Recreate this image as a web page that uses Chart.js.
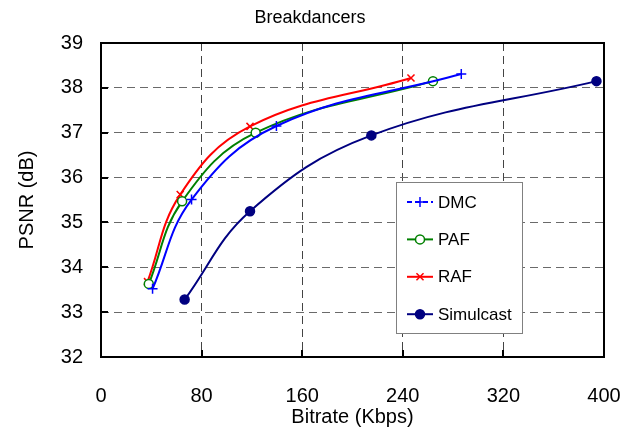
<!DOCTYPE html>
<html>
<head>
<meta charset="utf-8">
<script src="https://cdn.jsdelivr.net/npm/chart.js@4/dist/chart.umd.min.js"></script>
<style>
  html, body { margin:0; padding:0; background:#fff; }
  #wrap { width:635px; height:438px; }
</style>
</head>
<body>
<div id="wrap"><canvas id="chart"></canvas></div>
<script>
// ---- data (bitrate Kbps, PSNR dB) ----
const seriesNames = ['DMC', 'PAF', 'RAF', 'Simulcast'];
const dmcRate   = [41, 72, 139.5, 286.5];
const dmcPsnr   = [33.52, 35.51, 37.15, 38.31];
const pafRate   = [38, 64.5, 123, 264];
const pafPsnr   = [33.63, 35.47, 37.0, 38.15];
const rafRate   = [37, 63, 118.5, 246.5];
const rafPsnr   = [33.68, 35.62, 37.14, 38.22];
const simRate   = [66.5, 118.5, 215, 394];
const simPsnr   = [33.28, 35.25, 36.94, 38.15];
const xTicks    = [0, 80, 160, 240, 320, 400];
const yTicks    = [32, 33, 34, 35, 36, 37, 38, 39];

const FONT = "'Liberation Sans', Arial, sans-serif";
const pts = (xs, ys) => xs.map((x, i) => ({ x: x, y: ys[i] }));

const styles = [
  { color:'#0000ff', point:'cross',    radius:5,   fill:'#0000ff' },
  { color:'#008000', point:'circle',   radius:4.5, fill:'#ffffff' },
  { color:'#ff0000', point:'crossRot', radius:5,   fill:'#ff0000' },
  { color:'#000080', point:'circle',   radius:4.5, fill:'#000080' }
];
const raw = [pts(dmcRate, dmcPsnr), pts(pafRate, pafPsnr), pts(rafRate, rafPsnr), pts(simRate, simPsnr)];

// frame, inside ticks, legend, title
const decor = {
  id: 'decor',
  afterDatasetsDraw(chart) {
    const { ctx, chartArea: a, scales: { x, y } } = chart;
    ctx.save();
    ctx.strokeStyle = '#000';
    ctx.lineWidth = 2;
    ctx.strokeRect(a.left, a.top, a.right - a.left, a.bottom - a.top);
    ctx.beginPath();
    yTicks.forEach(v => { const p = Math.round(y.getPixelForValue(v)); ctx.moveTo(a.left, p); ctx.lineTo(a.left + 7, p); });
    xTicks.forEach(v => { const p = Math.round(x.getPixelForValue(v)); ctx.moveTo(p, a.bottom); ctx.lineTo(p, a.bottom - 7); });
    ctx.stroke();

    // legend box
    const bx = 396, by = 182, bw = 126, bh = 151;
    ctx.fillStyle = '#fff';
    ctx.fillRect(bx, by, bw, bh);
    ctx.strokeStyle = '#808080';
    ctx.lineWidth = 1;
    ctx.strokeRect(bx + 0.5, by + 0.5, bw, bh);
    ctx.font = '17px ' + FONT;
    ctx.textBaseline = 'middle';
    ctx.textAlign = 'left';
    seriesNames.forEach((name, i) => {
      const s = styles[i];
      const cy = 202 + i * 37.4;
      ctx.strokeStyle = s.color;
      ctx.lineWidth = 2;
      ctx.setLineDash(i === 0 ? [5, 3] : []);
      ctx.beginPath(); ctx.moveTo(407, cy); ctx.lineTo(433, cy); ctx.stroke();
      ctx.setLineDash([]);
      ctx.fillStyle = s.fill;
      ctx.lineWidth = 1.5;
      Chart.helpers.drawPoint(ctx, { pointStyle: s.point, radius: s.radius, borderWidth: 1.5, rotation: 0 }, 420, cy);
      ctx.fillStyle = '#000';
      ctx.fillText(name, 438, cy + 1);
    });

    // title
    ctx.font = '18px ' + FONT;
    ctx.textAlign = 'center';
    ctx.fillStyle = '#000';
    ctx.fillText('Breakdancers', 310, 18);
    ctx.restore();
  }
};

new Chart(document.getElementById('chart'), {
  type: 'scatter',
  data: {
    datasets: raw.map((d, i) => ({
      label: seriesNames[i],
      data: d,
      showLine: true,
      borderColor: styles[i].color,
      backgroundColor: styles[i].fill,
      borderWidth: 2,
      tension: 0.4,
      pointStyle: styles[i].point,
      pointRadius: styles[i].radius,
      pointBorderColor: styles[i].color,
      pointBackgroundColor: styles[i].fill,
      pointBorderWidth: 1.5
    }))
  },
  options: {
    responsive: true,
    maintainAspectRatio: false,
    animation: false,
    layout: { padding: { top: 43, right: 31, left: 0, bottom: 0 } },
    plugins: { legend: { display: false }, tooltip: { enabled: false }, title: { display: false } },
    scales: {
      x: {
        type: 'linear', min: 0, max: 400,
        afterFit: s => { s.height = 81; s.paddingLeft = 0; s.paddingRight = 0; },
        afterBuildTicks: s => { s.ticks = xTicks.map(v => ({ value: v })); },
        ticks: { color: '#000', font: { family: FONT, size: 20 }, padding: 27, maxRotation: 0 },
        grid: { color: c => (c.tick && (c.tick.value === 0 || c.tick.value === 400)) ? 'rgba(0,0,0,0)' : '#444444', lineWidth: 1, drawTicks: false },
        border: { display: false, dash: [8, 5] },
        title: { display: true, text: 'Bitrate (Kbps)', color: '#000', font: { family: FONT, size: 20 }, padding: { top: 0, bottom: 9 } }
      },
      y: {
        type: 'linear', min: 32, max: 39,
        afterFit: s => { s.width = 101; s.paddingTop = 0; s.paddingBottom = 0; },
        afterBuildTicks: s => { s.ticks = yTicks.map(v => ({ value: v })); },
        ticks: { color: '#000', font: { family: FONT, size: 20 }, padding: 18 },
        grid: { color: c => (c.tick && (c.tick.value === 32 || c.tick.value === 39)) ? 'rgba(0,0,0,0)' : '#6a6a6a', lineWidth: 1, drawTicks: false },
        border: { display: false, dash: [8, 5] },
        title: { display: true, text: 'PSNR (dB)', color: '#000', font: { family: FONT, size: 20 }, padding: { top: 15, bottom: 0 } }
      }
    }
  },
  plugins: [decor]
});
</script>
</body>
</html>
